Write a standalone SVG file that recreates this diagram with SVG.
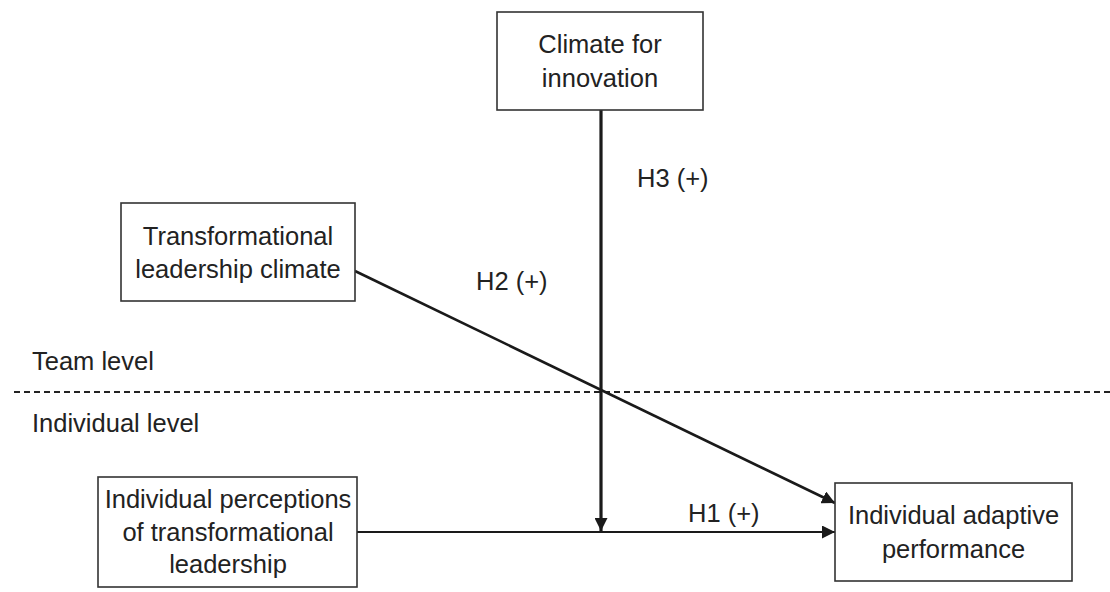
<svg xmlns="http://www.w3.org/2000/svg" width="1110" height="592" viewBox="0 0 1110 592">
<style>
.box{fill:#fff;stroke:#333;stroke-width:1.6}
text{font-family:"Liberation Sans",Arial,Helvetica,sans-serif;font-size:25.5px;fill:#222}
.c{text-anchor:middle}
.ln{stroke:#1a1a1a;fill:none}
</style>
<defs>
<marker id="ah" viewBox="0 0 10 10" refX="10" refY="5" markerWidth="13" markerHeight="13" markerUnits="userSpaceOnUse" orient="auto">
<path d="M0,0 L10,5 L0,10 z" fill="#1a1a1a"/>
</marker>
</defs>
<rect width="1110" height="592" fill="#fff"/>
<g id="levels">
<line x1="14" y1="392" x2="1110" y2="392" stroke="#222" stroke-width="2" stroke-dasharray="6,4"/>
<text x="32" y="370">Team level</text>
<text x="32" y="432">Individual level</text>
</g>
<g id="connectors">
<line class="ln" x1="601" y1="110" x2="601" y2="531" stroke-width="3.2" marker-end="url(#ah)"/>
<line class="ln" x1="355" y1="271" x2="835" y2="503" stroke-width="2.6" marker-end="url(#ah)"/>
<line class="ln" x1="357" y1="532" x2="835" y2="532" stroke-width="2.2" marker-end="url(#ah)"/>
<text x="637" y="187">H3 (+)</text>
<text x="476" y="290">H2 (+)</text>
<text x="688" y="522">H1 (+)</text>
</g>
<g id="climate">
<rect class="box" x="497" y="12" width="206" height="98"/>
<text class="c" x="600" y="53">Climate for</text>
<text class="c" x="600" y="87">innovation</text>
</g>
<g id="tlclimate">
<rect class="box" x="121" y="203" width="234" height="98"/>
<text class="c" x="238" y="245">Transformational</text>
<text class="c" x="238" y="278">leadership climate</text>
</g>
<g id="perceptions">
<rect class="box" x="98" y="477" width="259" height="110"/>
<text class="c" x="228" y="508">Individual perceptions</text>
<text class="c" x="228" y="541">of transformational</text>
<text class="c" x="228" y="573">leadership</text>
</g>
<g id="adaptive">
<rect class="box" x="835" y="483" width="237" height="98"/>
<text class="c" x="953.5" y="524">Individual adaptive</text>
<text class="c" x="953.5" y="558">performance</text>
</g>
</svg>
